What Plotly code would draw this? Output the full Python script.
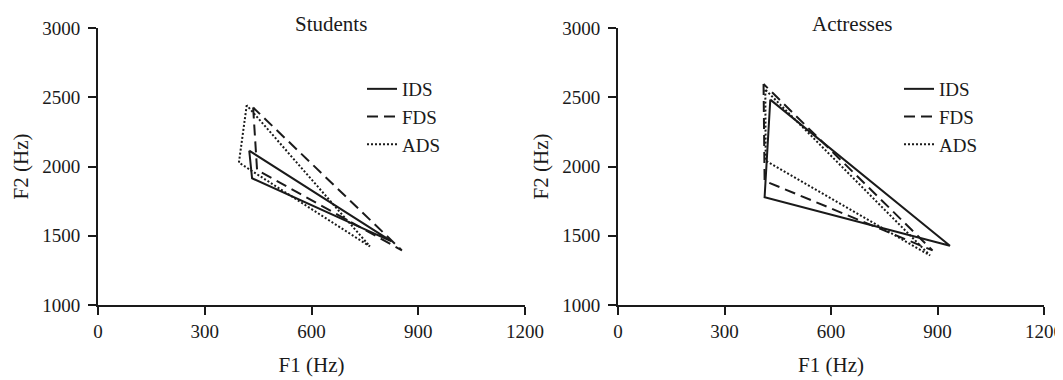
import plotly.graph_objects as go

# ---- data ----
series = ["IDS", "FDS", "ADS"]

# Students: vertices (top, lower-left, right tip)
students_f1 = {
    "IDS": [425, 433, 825],
    "FDS": [436, 447, 854],
    "ADS": [418, 396, 764],
}
students_f2 = {
    "IDS": [2114, 1915, 1459],
    "FDS": [2426, 1975, 1394],
    "ADS": [2443, 2028, 1423],
}

# Actresses
actresses_f1 = {
    "IDS": [429, 413, 935],
    "FDS": [410, 413, 886],
    "ADS": [415, 416, 879],
}
actresses_f2 = {
    "IDS": [2483, 1778, 1428],
    "FDS": [2596, 1896, 1394],
    "ADS": [2555, 2041, 1358],
}

x_ticks = [0, 300, 600, 900, 1200]
y_ticks = [1000, 1500, 2000, 2500, 3000]
panel_titles = ["Students", "Actresses"]

dash_styles = {"IDS": "solid", "FDS": "11px,6px", "ADS": "2px,2px"}
FONT = "Liberation Serif, Times New Roman, serif"
INK = "#1a1a1a"

W, H = 1063, 380
OFF = 8  # default page body margin
# screen-pixel geometry of the plot area
SX0, SX1, SY0, SY1 = 98, 1044, 28, 305
ML, MT = SX0 - OFF, SY0 - OFF
MR, MB = W - (SX1 - OFF), H - (SY1 - OFF)
PW, PH = SX1 - SX0, SY1 - SY0


def px_x(p):
    return (p - SX0) / PW


def px_y(p):
    return (SY1 - p) / PH


fig = go.Figure()


def closed(v):
    return list(v) + [v[0]]


for f1d, f2d, xa, ya, lg in [
    (students_f1, students_f2, "x", "y", "legend"),
    (actresses_f1, actresses_f2, "x2", "y2", "legend2"),
]:
    for s in series:
        fig.add_trace(go.Scatter(
            x=closed(f1d[s]), y=closed(f2d[s]),
            mode="lines", name=s,
            line=dict(color=INK, width=2, dash=dash_styles[s]),
            xaxis=xa, yaxis=ya, legend=lg, showlegend=True,
            hoverinfo="skip",
        ))

axis_common = dict(
    showline=True, linecolor=INK, linewidth=2,
    ticks="outside", ticklen=8, tickwidth=2, tickcolor=INK,
    showgrid=False, zeroline=False, automargin=False,
    tickfont=dict(family=FONT, size=19, color=INK),
)

xaxis_common = dict(axis_common, range=[0, 1200], tickvals=x_ticks,
                    title=dict(text="F1 (Hz)", font=dict(family=FONT, size=21, color=INK), standoff=17))
yaxis_common = dict(axis_common, range=[1000, 3000], tickvals=y_ticks, ticklabelstandoff=4,
                    title=dict(text="F2 (Hz)", font=dict(family=FONT, size=21, color=INK), standoff=8))

legend_common = dict(
    xanchor="left", yanchor="top", y=px_y(70),
    font=dict(family=FONT, size=19, color=INK),
    bgcolor="rgba(0,0,0,0)", borderwidth=0, tracegroupgap=0,
    itemclick=False, itemdoubleclick=False,
)

fig.update_layout(
    width=W, height=H,
    margin=dict(l=ML, r=MR, t=MT, b=MB, autoexpand=False),
    paper_bgcolor="white", plot_bgcolor="white",
    xaxis=dict(xaxis_common, domain=[0, px_x(525)], anchor="y"),
    yaxis=dict(yaxis_common, domain=[0, 1], anchor="x"),
    xaxis2=dict(xaxis_common, domain=[px_x(618), 1], anchor="y2"),
    yaxis2=dict(yaxis_common, domain=[0, 1], anchor="x2"),
    legend=dict(legend_common, x=px_x(362)),
    legend2=dict(legend_common, x=px_x(899)),
    annotations=[
        dict(text=panel_titles[0], x=px_x(331), y=px_y(24), xref="paper", yref="paper",
             showarrow=False, font=dict(family=FONT, size=21, color=INK), xanchor="center", yanchor="middle"),
        dict(text=panel_titles[1], x=px_x(852), y=px_y(24), xref="paper", yref="paper",
             showarrow=False, font=dict(family=FONT, size=21, color=INK), xanchor="center", yanchor="middle"),
    ],
    showlegend=True,
)

fig.write_html("out.html")
